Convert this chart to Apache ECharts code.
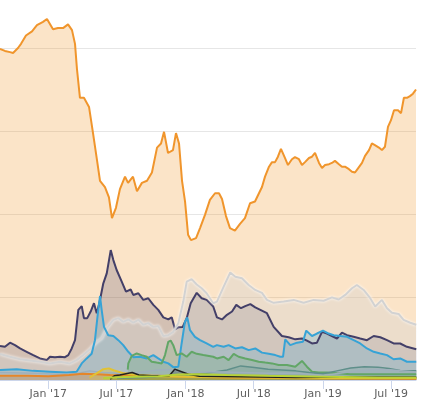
<!DOCTYPE html>
<html>
<head>
<meta charset="utf-8">
<script src="https://cdn.jsdelivr.net/npm/echarts@6/dist/echarts.min.js"></script>
<style>
html,body{margin:0;padding:0;background:#fff;overflow:hidden;width:434px;height:410px;position:relative;}
#chart{position:absolute;left:0;top:-35px;width:434px;height:445px;}
</style>
</head>
<body>
<div id="chart"></div>
<script>
// Market dominance (%) — pairs of [decimal year, percent]
const bitcoin = [[2016.648,79.8],[2016.684,79.3],[2016.721,79.0],[2016.743,78.8],[2016.779,80.0],[2016.801,81.0],[2016.837,83.0],[2016.881,84.0],[2016.917,85.5],[2016.961,86.3],[2016.990,87.0],[2017.034,84.5],[2017.070,84.8],[2017.107,84.8],[2017.143,85.7],[2017.172,84.3],[2017.194,81.0],[2017.208,75.0],[2017.230,68.0],[2017.259,68.0],[2017.296,65.8],[2017.325,59.5],[2017.354,53.0],[2017.376,48.0],[2017.412,46.5],[2017.441,44.0],[2017.463,39.0],[2017.492,41.5],[2017.521,46.0],[2017.558,49.0],[2017.580,47.5],[2017.616,49.0],[2017.645,45.5],[2017.681,47.5],[2017.718,48.0],[2017.754,50.0],[2017.791,56.0],[2017.820,57.0],[2017.842,59.8],[2017.871,54.7],[2017.907,55.4],[2017.929,59.5],[2017.951,57.0],[2017.973,48.0],[2017.995,43.0],[2018.017,35.0],[2018.038,33.7],[2018.075,34.2],[2018.104,36.6],[2018.140,39.8],[2018.176,43.4],[2018.213,45.0],[2018.242,45.0],[2018.264,43.6],[2018.293,39.5],[2018.322,36.6],[2018.358,36.0],[2018.395,37.6],[2018.431,39.0],[2018.468,42.6],[2018.504,43.0],[2018.533,45.0],[2018.555,46.5],[2018.577,49.0],[2018.606,51.4],[2018.628,52.5],[2018.650,52.5],[2018.671,53.8],[2018.693,55.7],[2018.722,53.5],[2018.744,51.8],[2018.773,53.2],[2018.795,53.7],[2018.824,53.2],[2018.846,51.8],[2018.868,52.5],[2018.897,53.5],[2018.919,53.8],[2018.941,54.7],[2018.970,52.3],[2018.992,51.1],[2019.014,51.8],[2019.043,52.0],[2019.064,52.3],[2019.086,52.8],[2019.115,52.0],[2019.137,51.4],[2019.159,51.4],[2019.188,50.8],[2019.210,50.2],[2019.232,50.0],[2019.254,51.0],[2019.283,52.3],[2019.305,54.0],[2019.334,55.4],[2019.355,57.0],[2019.377,56.6],[2019.406,56.0],[2019.428,55.4],[2019.450,56.2],[2019.472,61.0],[2019.494,62.6],[2019.516,65.0],[2019.545,65.0],[2019.567,64.3],[2019.588,68.0],[2019.610,68.0],[2019.632,68.4],[2019.654,69.0],[2019.676,70.0]];

const ethereum = [[2016.648,8.2],[2016.684,8.0],[2016.721,9.0],[2016.757,8.4],[2016.794,7.6],[2016.842,6.8],[2016.890,6.0],[2016.939,5.2],[2016.988,4.8],[2017.012,5.6],[2017.048,5.5],[2017.085,5.6],[2017.121,5.5],[2017.145,6.0],[2017.170,7.6],[2017.194,9.6],[2017.218,16.9],[2017.243,17.8],[2017.259,14.9],[2017.283,14.9],[2017.308,16.5],[2017.332,18.5],[2017.352,16.1],[2017.371,18.5],[2017.400,23.3],[2017.425,25.7],[2017.454,31.3],[2017.473,28.9],[2017.497,26.5],[2017.534,23.7],[2017.565,21.3],[2017.599,21.8],[2017.618,20.5],[2017.655,20.9],[2017.691,19.3],[2017.727,19.7],[2017.764,18.1],[2017.800,16.9],[2017.837,15.1],[2017.873,14.6],[2017.898,15.1],[2017.922,12.2],[2017.946,12.7],[2017.978,12.8],[2018.007,14.9],[2018.036,18.5],[2018.080,21.0],[2018.116,19.7],[2018.152,19.3],[2018.200,17.7],[2018.227,15.1],[2018.264,14.6],[2018.300,15.7],[2018.337,16.5],[2018.368,18.1],[2018.402,17.3],[2018.433,17.8],[2018.470,18.3],[2018.506,17.5],[2018.543,16.9],[2018.591,16.1],[2018.640,12.8],[2018.700,10.6],[2018.749,10.3],[2018.797,9.8],[2018.846,10.0],[2018.882,9.5],[2018.919,8.8],[2018.955,9.0],[2018.992,11.6],[2019.028,11.2],[2019.064,10.6],[2019.101,10.0],[2019.137,11.4],[2019.174,10.8],[2019.222,10.4],[2019.270,10.0],[2019.319,9.6],[2019.368,10.6],[2019.416,10.3],[2019.465,9.6],[2019.513,8.8],[2019.561,8.8],[2019.610,8.0],[2019.678,7.4]];

const others = [[2016.648,6.3],[2016.721,5.6],[2016.794,5.0],[2016.866,4.7],[2016.939,4.4],[2017.012,4.0],[2017.085,4.4],[2017.157,4.0],[2017.206,4.8],[2017.254,6.0],[2017.303,7.4],[2017.352,9.2],[2017.388,10.0],[2017.425,12.5],[2017.473,14.5],[2017.509,14.9],[2017.545,14.0],[2017.582,14.6],[2017.618,13.8],[2017.655,14.5],[2017.691,13.3],[2017.727,13.7],[2017.764,12.8],[2017.800,13.0],[2017.837,10.6],[2017.873,10.8],[2017.909,11.6],[2017.946,13.7],[2017.982,18.9],[2018.007,23.7],[2018.043,24.3],[2018.080,23.0],[2018.116,22.1],[2018.152,20.9],[2018.200,18.5],[2018.227,18.9],[2018.276,22.5],[2018.324,25.9],[2018.361,24.9],[2018.409,24.5],[2018.458,22.9],[2018.506,21.7],[2018.555,21.0],[2018.591,19.3],[2018.640,18.6],[2018.713,18.9],[2018.786,19.3],[2018.858,18.6],[2018.931,19.3],[2019.004,19.1],[2019.064,19.9],[2019.113,19.4],[2019.161,20.5],[2019.210,22.1],[2019.246,22.9],[2019.295,21.7],[2019.343,19.7],[2019.379,17.7],[2019.428,19.3],[2019.465,17.3],[2019.501,16.2],[2019.550,15.9],[2019.586,14.5],[2019.634,13.8],[2019.678,13.3]];

const xrp = [[2016.648,2.4],[2016.770,2.6],[2016.890,2.2],[2017.012,2.0],[2017.133,1.8],[2017.206,2.0],[2017.243,4.0],[2017.279,5.2],[2017.315,6.3],[2017.339,9.6],[2017.363,16.9],[2017.376,20.2],[2017.388,16.9],[2017.405,12.8],[2017.436,10.8],[2017.473,10.6],[2017.509,9.6],[2017.545,8.4],[2017.582,6.8],[2017.618,5.5],[2017.667,5.6],[2017.716,5.2],[2017.764,6.0],[2017.800,5.2],[2017.837,4.4],[2017.873,4.0],[2017.909,3.1],[2017.946,3.2],[2017.970,8.8],[2017.994,14.0],[2018.011,15.1],[2018.031,12.0],[2018.067,10.4],[2018.104,9.6],[2018.152,8.8],[2018.200,8.0],[2018.227,8.4],[2018.276,8.0],[2018.312,8.4],[2018.361,7.6],[2018.409,7.9],[2018.458,7.2],[2018.506,7.6],[2018.555,6.6],[2018.604,6.3],[2018.652,6.0],[2018.688,5.6],[2018.708,5.6],[2018.724,9.8],[2018.761,8.4],[2018.810,9.0],[2018.853,9.2],[2018.877,11.9],[2018.919,10.6],[2018.955,11.2],[2018.999,11.9],[2019.040,11.2],[2019.077,10.8],[2019.125,10.6],[2019.174,10.4],[2019.222,9.6],[2019.270,8.8],[2019.319,7.6],[2019.368,6.8],[2019.416,6.4],[2019.465,6.0],[2019.513,5.0],[2019.561,5.2],[2019.610,4.4],[2019.678,4.4]];

const bitcoinCash = [[2017.578,2.5],[2017.582,4.0],[2017.607,5.8],[2017.643,6.4],[2017.679,6.0],[2017.716,5.6],[2017.752,4.4],[2017.788,4.2],[2017.825,4.0],[2017.849,6.0],[2017.873,9.2],[2017.890,9.5],[2017.909,8.4],[2017.934,6.0],[2017.970,6.4],[2018.007,5.6],[2018.043,6.8],[2018.080,6.3],[2018.128,6.0],[2018.200,5.6],[2018.227,5.2],[2018.276,5.6],[2018.312,4.8],[2018.349,6.3],[2018.385,5.6],[2018.433,5.2],[2018.482,4.8],[2018.531,4.4],[2018.579,4.2],[2018.628,4.0],[2018.676,3.6],[2018.737,3.6],[2018.797,3.2],[2018.846,4.6],[2018.882,3.2],[2018.919,2.0],[2018.968,1.8],[2019.028,1.8],[2019.101,1.6],[2019.198,1.4],[2019.319,1.4],[2019.441,1.4],[2019.678,1.4]];

const eos = [[2017.50,0.4],[2017.70,0.6],[2017.90,1.0],[2018.00,1.2],[2018.15,1.6],[2018.30,2.4],[2018.40,3.4],[2018.50,3.0],[2018.60,2.6],[2018.70,2.4],[2018.80,2.2],[2018.90,1.8],[2019.00,1.5],[2019.10,2.2],[2019.20,2.9],[2019.30,3.2],[2019.40,3.1],[2019.48,2.8],[2019.56,2.3],[2019.678,2.2]];

const litecoin = [[2016.648,1.8],[2016.90,1.6],[2017.10,1.3],[2017.20,1.5],[2017.30,2.2],[2017.40,1.8],[2017.50,1.6],[2017.60,1.6],[2017.70,2.0],[2017.80,2.4],[2017.90,2.5],[2018.00,1.8],[2018.20,2.0],[2018.40,1.8],[2018.60,1.6],[2018.80,1.7],[2019.00,1.1],[2019.20,2.0],[2019.40,2.6],[2019.50,2.4],[2019.678,1.9]];

const dash = [[2016.648,1.0],[2016.85,1.0],[2017.00,0.9],[2017.15,1.2],[2017.25,1.5],[2017.35,1.4],[2017.45,1.2],[2017.60,1.1],[2017.80,1.0],[2018.00,0.8],[2018.30,0.6],[2018.70,0.5],[2019.00,0.4],[2019.678,0.3]];

const nem = [[2017.30,0.6],[2017.36,1.8],[2017.40,2.6],[2017.44,2.8],[2017.48,2.3],[2017.55,1.6],[2017.65,1.2],[2017.80,0.9],[2018.00,0.8],[2018.50,0.6],[2019.00,0.5],[2019.678,0.5]];

const tron = [[2017.45,0.2],[2017.48,1.0],[2017.52,1.2],[2017.61,1.8],[2017.66,1.2],[2017.75,1.0],[2017.88,1.0],[2017.92,2.6],[2017.97,2.0],[2018.02,1.4],[2018.10,0.9],[2018.40,0.8],[2018.80,0.6],[2019.20,0.7],[2019.678,0.7]];

const stellar = [[2017.40,0.5],[2017.55,0.7],[2017.80,0.9],[2017.95,1.3],[2018.10,1.4],[2018.30,1.2],[2018.60,1.0],[2019.00,0.8],[2019.40,0.6],[2019.678,0.6]];

const tickLabels = [[2017,0,"Jan '17"],[2017,6,"Jul '17"],[2018,0,"Jan '18"],[2018,6,"Jul '18"],[2019,0,"Jan '19"],[2019,6,"Jul '19"]];
const xStart = 2016.648, xEnd = 2019.676;

const toTime = yr => Date.UTC(2017,0,1) + (yr - 2017) * 365.25 * 86400000;
const conv = arr => arr.map(p => [toTime(p[0]), p[1]]);
const tickTimes = tickLabels.map(t => Date.UTC(t[0], t[1], 1));
const labelOf = v => {
  let best = '', bd = Infinity;
  tickLabels.forEach(t => { const d = Math.abs(Date.UTC(t[0], t[1], 1) - v); if (d < bd) { bd = d; best = t[2]; } });
  return bd < 86400000 ? best : '';
};

function area(name, data, color, width, fillOpacity, lineExtra) {
  return {
    name, type: 'line', data: conv(data), symbol: 'none', smooth: false,
    lineStyle: Object.assign({ color, width }, lineExtra || {}), itemStyle: { color },
    areaStyle: { color, opacity: fillOpacity }
  };
}

const chart = echarts.init(document.getElementById('chart'), null, { renderer: 'canvas' });
chart.setOption({
  animation: false,
  backgroundColor: '#ffffff',
  grid: { left: 0, right: 18, top: 0, bottom: 30, containLabel: false },
  xAxis: {
    type: 'value', scale: true,
    min: toTime(xStart), max: toTime(xEnd),
    axisLine: { show: true, lineStyle: { color: '#ccd6eb', width: 1 } },
    axisTick: { show: true, customValues: tickTimes, length: 9, lineStyle: { color: '#ccd6eb' } },
    axisLabel: {
      customValues: tickTimes, margin: 9,
      color: '#606060', fontSize: 11, fontFamily: 'DejaVu Sans',
      formatter: v => labelOf(v)
    },
    splitLine: { show: false }
  },
  yAxis: {
    type: 'value', min: 0, max: 100, interval: 20,
    axisLabel: { show: false }, axisLine: { show: false }, axisTick: { show: false },
    splitLine: { show: true, lineStyle: { color: '#e6e6e6', width: 1 } }
  },
  series: [
    area('Bitcoin', bitcoin, '#f0952c', 2, 0.26),
    area('Ethereum', ethereum, '#433f68', 2, 0.22),
    area('Others', others, '#d2d2d2', 2, 0.35, { shadowColor: 'rgba(255,255,255,0.95)', shadowBlur: 3 }),
    area('XRP', xrp, '#36a3d6', 2, 0.22),
    area('Bitcoin Cash', bitcoinCash, '#62a667', 2, 0.22),
    area('EOS', eos, '#5f8f8a', 1.5, 0.2),
    area('Litecoin', litecoin, '#9fb0bc', 1.5, 0.2),
    area('Dash', dash, '#e5862a', 2, 0.3),
    area('NEM', nem, '#e2c233', 2, 0.3),
    area('TRON', tron, '#222222', 1.5, 0.25),
    area('Stellar', stellar, '#b7d336', 2, 0.3)
  ]
});
</script>
</body>
</html>
